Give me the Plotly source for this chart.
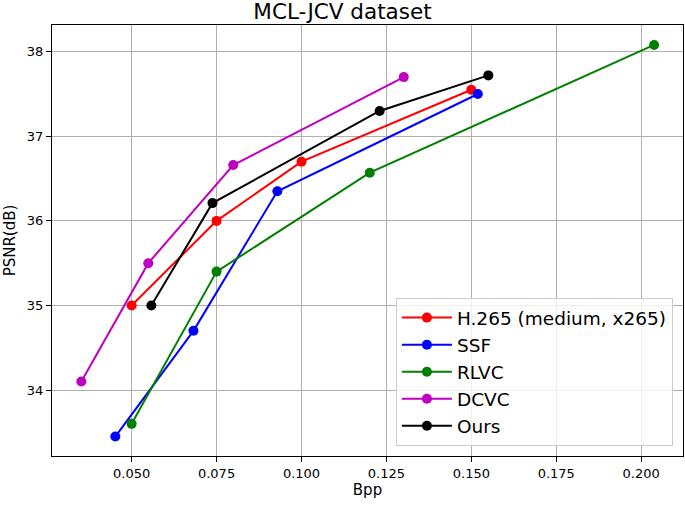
import plotly.graph_objects as go

# rate-distortion points
h265_bpp = [0.050, 0.075, 0.100, 0.150]
h265_psnr = [35.00, 36.00, 36.70, 37.55]

ssf_bpp = [0.0452, 0.0682, 0.0929, 0.1519]
ssf_psnr = [33.45, 34.70, 36.35, 37.50]

rlvc_bpp = [0.050, 0.075, 0.1201, 0.2038]
rlvc_psnr = [33.60, 35.40, 36.57, 38.08]

dcvc_bpp = [0.0352, 0.0549, 0.0799, 0.1301]
dcvc_psnr = [34.10, 35.50, 36.66, 37.70]

ours_bpp = [0.0558, 0.0738, 0.1230, 0.1550]
ours_psnr = [35.00, 36.21, 37.30, 37.72]

series = [
    ("H.265 (medium, x265)", h265_bpp, h265_psnr, "#ff0000"),
    ("SSF", ssf_bpp, ssf_psnr, "#0000ff"),
    ("RLVC", rlvc_bpp, rlvc_psnr, "#008000"),
    ("DCVC", dcvc_bpp, dcvc_psnr, "#bf00bf"),
    ("Ours", ours_bpp, ours_psnr, "#000000"),
]

fig = go.Figure()
for name, x, y, color in series:
    fig.add_trace(go.Scatter(
        x=x, y=y, name=name, mode="lines+markers", legendgroup=name,
        line={"color": color, "width": 2},
        marker={"color": color, "size": 10},
    ))

axis_common = dict(
    showline=True, linecolor="black", linewidth=1.2, mirror=True,
    showgrid=True, gridcolor="#b0b0b0", gridwidth=1,
    ticks="outside", ticklen=5, tickcolor="black",
    zeroline=False, automargin=False,
    tickfont={"size": 13, "color": "black"},
)

fig.update_xaxes(
    range=[0.02656, 0.2123], tickvals=[0.05, 0.075, 0.1, 0.125, 0.15, 0.175, 0.2],
    tickformat=".3f", title={"text": "Bpp", "font": {"size": 15}, "standoff": 4},
    **axis_common,
)
fig.update_yaxes(
    range=[33.22, 38.316], tickvals=[34, 35, 36, 37, 38],
    title={"text": "PSNR(dB)", "font": {"size": 15}, "standoff": 7},
    **axis_common,
)

fig.update_layout(
    width=685, height=511,
    margin={"l": 52, "r": 2, "t": 25, "b": 55},
    plot_bgcolor="white", paper_bgcolor="white",
    font={"family": "DejaVu Sans", "color": "black"},
    title={"text": "MCL-JCV dataset", "x": 0.5, "xanchor": "center",
           "y": 0.977, "yanchor": "middle", "font": {"size": 21.5}},
    legend={
        "x": 0.984, "y": 0.023, "xanchor": "right", "yanchor": "bottom",
        "bgcolor": "rgba(255,255,255,0.8)", "bordercolor": "#cccccc", "borderwidth": 1,
        "font": {"size": 18.5}, "tracegroupgap": 0, "itemwidth": 50,
    },
)

# the page's default body margin would shift the figure by 8px
fig.write_html("out.html", config={"displayModeBar": False},
               post_script="document.body.style.margin='0';")
